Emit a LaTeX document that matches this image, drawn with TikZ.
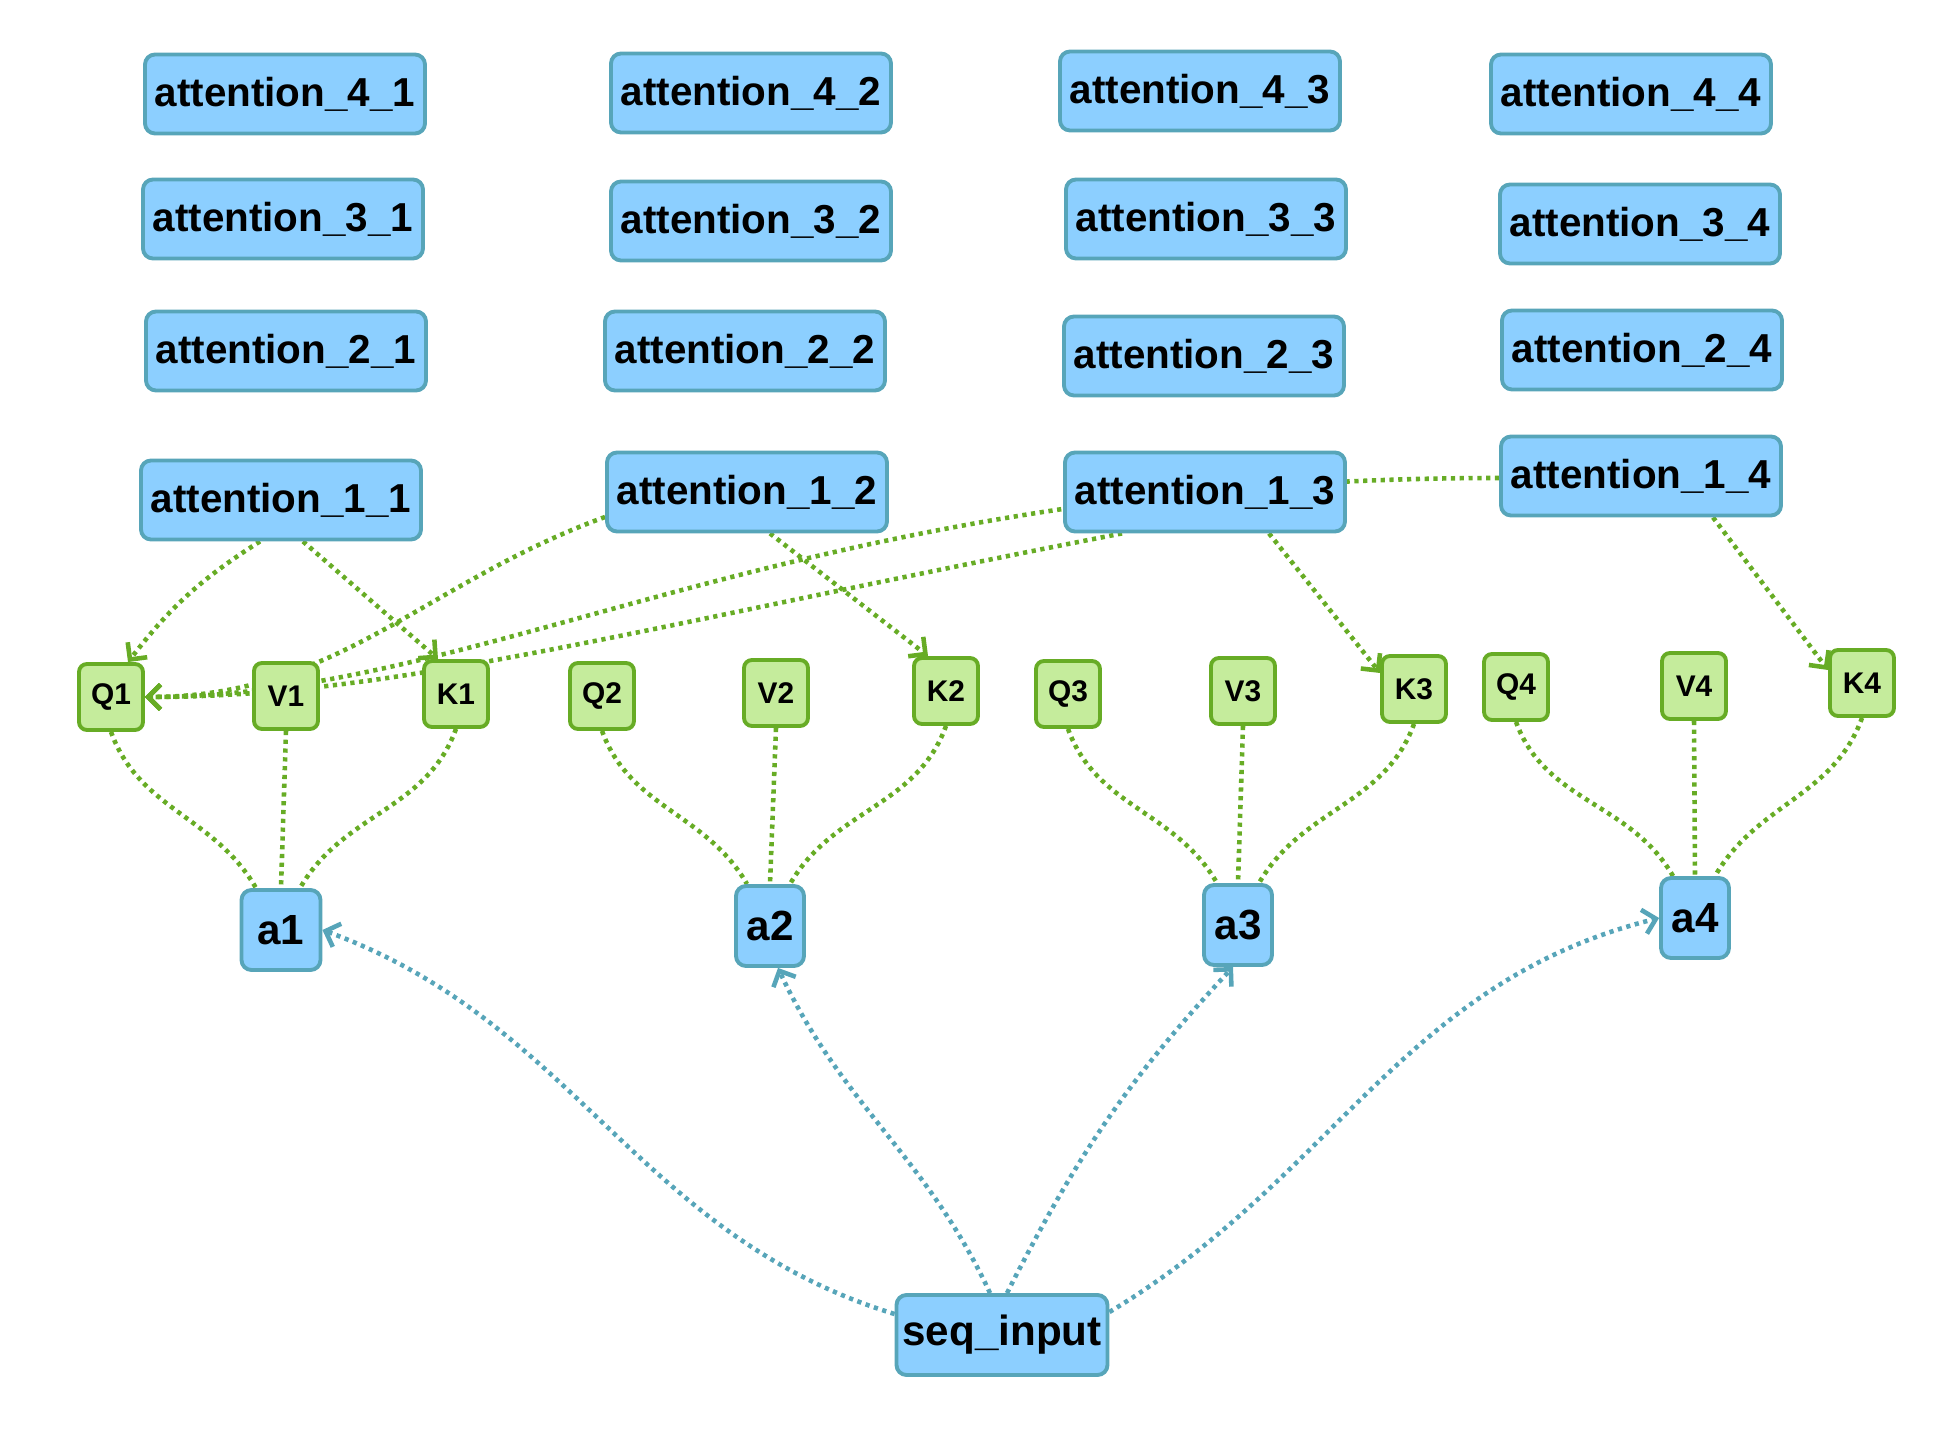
\documentclass[tikz,border=0pt]{standalone}
\usepackage{fontspec}
\setmainfont{Liberation Sans}
\usepackage{xcolor}
\usepackage{tikz}
\usetikzlibrary{arrows.meta, backgrounds}

\definecolor{attfill}{HTML}{8CCFFF}
\definecolor{attline}{HTML}{57A5B9}
\definecolor{qkvfill}{HTML}{C5EC9C}
\definecolor{qkvline}{HTML}{67AC25}

\begin{document}
\begin{tikzpicture}[
  att/.style={rectangle, rounded corners=0.1cm, draw=attline, fill=attfill, line width=1.1pt,
              minimum width=2.8cm, minimum height=0.79cm, inner sep=0pt, text centered,
              font=\bfseries\fontsize{11.5}{13}\selectfont},
  tok/.style={att, minimum width=0.68cm, minimum height=0.8cm,
              font=\bfseries\fontsize{12}{14}\selectfont},
  qkv/.style={rectangle, rounded corners=0.08cm, draw=qkvline, fill=qkvfill, line width=1.1pt,
              minimum width=0.64cm, minimum height=0.66cm, inner sep=0pt, text centered,
              font=\bfseries\fontsize{8.5}{10}\selectfont},
  wire/.style={qkvline, line width=1.3pt, dash pattern=on 1.2pt off 1.3pt},
  link/.style={wire, -{Straight Barb[length=3.5pt,width=7pt]}},
  feed/.style={attline, line width=1.3pt, dash pattern=on 1.2pt off 1.3pt,
               -{Straight Barb[length=3.5pt,width=7pt]}}
]
\useasboundingbox (0,0) rectangle (19.6,-14.36);

\node[att] (att41) at (2.85,-0.94)  {attention\_4\_1};
\node[att] (att42) at (7.51,-0.93)  {attention\_4\_2};
\node[att] (att43) at (12.00,-0.91) {attention\_4\_3};
\node[att] (att44) at (16.31,-0.94) {attention\_4\_4};
\node[att] (att31) at (2.83,-2.19)  {attention\_3\_1};
\node[att] (att32) at (7.51,-2.21)  {attention\_3\_2};
\node[att] (att33) at (12.06,-2.19) {attention\_3\_3};
\node[att] (att34) at (16.40,-2.24) {attention\_3\_4};
\node[att] (att21) at (2.86,-3.51)  {attention\_2\_1};
\node[att] (att22) at (7.45,-3.51)  {attention\_2\_2};
\node[att] (att23) at (12.04,-3.56) {attention\_2\_3};
\node[att] (att24) at (16.42,-3.50) {attention\_2\_4};
\node[att] (att11) at (2.81,-5.00)  {attention\_1\_1};
\node[att] (att12) at (7.47,-4.92)  {attention\_1\_2};
\node[att] (att13) at (12.05,-4.92) {attention\_1\_3};
\node[att] (att14) at (16.41,-4.76) {attention\_1\_4};

\node[qkv] (Q1) at (1.11,-6.97)  {Q1};
\node[qkv] (V1) at (2.86,-6.96)  {V1};
\node[qkv] (K1) at (4.56,-6.94)  {K1};
\node[qkv] (Q2) at (6.02,-6.96)  {Q2};
\node[qkv] (V2) at (7.76,-6.93)  {V2};
\node[qkv] (K2) at (9.46,-6.91)  {K2};
\node[qkv] (Q3) at (10.68,-6.94) {Q3};
\node[qkv] (V3) at (12.43,-6.91) {V3};
\node[qkv] (K3) at (14.14,-6.89) {K3};
\node[qkv] (Q4) at (15.16,-6.87) {Q4};
\node[qkv] (V4) at (16.94,-6.86) {V4};
\node[qkv] (K4) at (18.62,-6.83) {K4};

\node[tok, minimum width=0.79cm] (a1) at (2.81,-9.30) {a1};
\node[tok] (a2) at (7.70,-9.26)  {a2};
\node[tok] (a3) at (12.38,-9.25) {a3};
\node[tok] (a4) at (16.95,-9.18) {a4};

\node[tok, minimum width=2.11cm] (seq) at (10.02,-13.35) {seq\_input};

\begin{scope}[on background layer]
% attention row 1 -> queries and keys
\draw[link] ([xshift=-0.21cm]att11.south) to[bend right=10] ([xshift=0.17cm]Q1.north);
\draw[link] ([xshift=0.22cm]att11.south) -- ([xshift=-0.18cm]K1.north);
\draw[link] ([yshift=-0.25cm]att12.west) to[out=200,in=0] (Q1.east);
\draw[link] ([xshift=0.23cm]att12.south) -- ([xshift=-0.18cm]K2.north);
\draw[link] ([xshift=-0.83cm]att13.south) to[out=191,in=0,out distance=5cm,in distance=2.5cm] (Q1.east);
\draw[link] ([xshift=0.64cm]att13.south) -- ([yshift=0.16cm]K3.west);
\draw[link] ([yshift=-0.02cm]att14.west) to[out=180,in=0,out distance=7cm,in distance=3.5cm] (Q1.east);
\draw[link] ([xshift=0.72cm]att14.south) -- ([yshift=0.13cm]K4.west);

% Q, V, K -> tokens
\draw[wire] (Q1.south) to[out=-70,in=120] ([xshift=-0.25cm]a1.north);
\draw[wire] (V1.south) -- (a1.north);
\draw[wire] (K1.south) to[out=-110,in=60] ([xshift=0.19cm]a1.north);
\draw[wire] (Q2.south) to[out=-70,in=120] ([xshift=-0.23cm]a2.north);
\draw[wire] (V2.south) -- (a2.north);
\draw[wire] (K2.south) to[out=-110,in=60] ([xshift=0.20cm]a2.north);
\draw[wire] (Q3.south) to[out=-70,in=120] ([xshift=-0.21cm]a3.north);
\draw[wire] (V3.south) -- (a3.north);
\draw[wire] (K3.south) to[out=-110,in=60] ([xshift=0.21cm]a3.north);
\draw[wire] (Q4.south) to[out=-70,in=120] ([xshift=-0.22cm]a4.north);
\draw[wire] (V4.south) -- (a4.north);
\draw[wire] (K4.south) to[out=-110,in=60] ([xshift=0.20cm]a4.north);

% input sequence -> tokens
\draw[feed] ([yshift=0.21cm]seq.west) to[out=163,in=-20] (a1.east);
\draw[feed] ([xshift=-0.12cm]seq.north) to[out=115,in=-65] ([xshift=0.08cm]a2.south);
\draw[feed] ([xshift=0.05cm]seq.north) to[out=63,in=-133] ([xshift=-0.05cm]a3.south);
\draw[feed] ([yshift=0.23cm]seq.east) to[out=31,in=194] (a4.west);
\end{scope}
\end{tikzpicture}
\end{document}
